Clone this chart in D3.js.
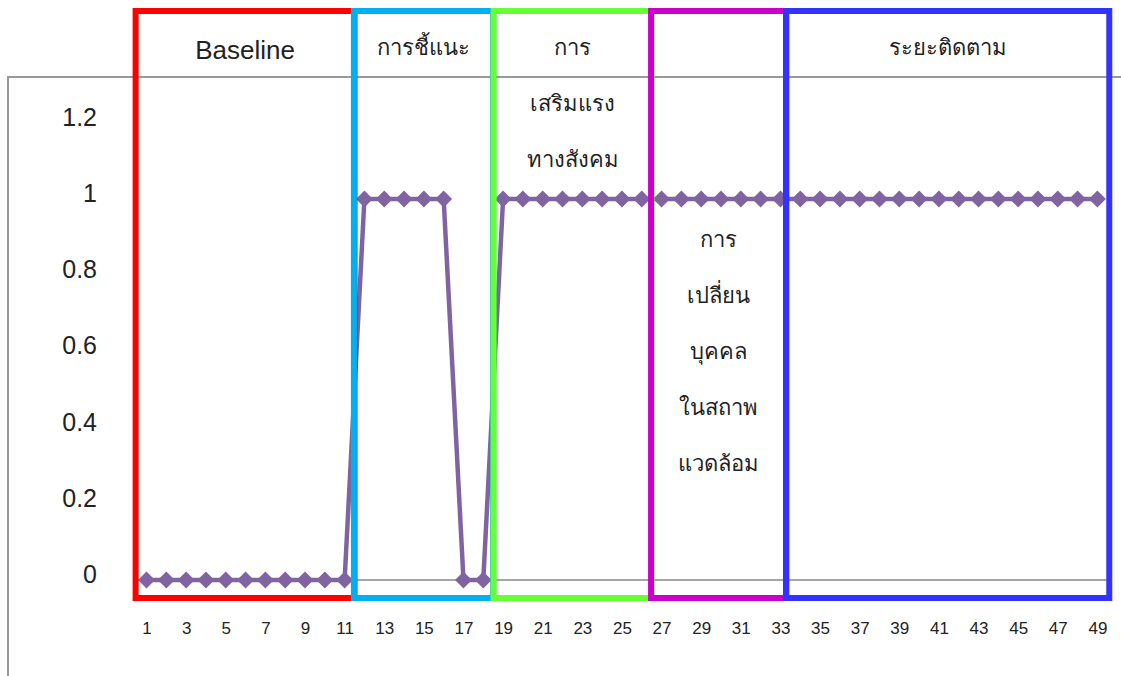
<!DOCTYPE html>
<html>
<head>
<meta charset="utf-8">
<script src="https://cdn.jsdelivr.net/npm/d3@7"></script>
<style>
  html, body { margin: 0; padding: 0; background: #fff; }
  svg { display: block; }
  text { font-family: "Liberation Sans", Arial, "DejaVu Sans", sans-serif; fill: #222; }
</style>
</head>
<body>
<svg id="chart" width="1121" height="676"></svg>
<script>
// ---- data ----
const categories = [1,2,3,4,5,6,7,8,9,10,11,12,13,14,15,16,17,18,19,20,21,22,23,24,25,
                    26,27,28,29,30,31,32,33,34,35,36,37,38,39,40,41,42,43,44,45,46,47,48,49];
const values = [0,0,0,0,0,0,0,0,0,0,0,
                1,1,1,1,1,
                0,0,
                1,1,1,1,1,1,1,1,1,1,1,1,1,1,1,1,1,1,1,1,1,1,1,1,1,1,1,1,1,1,1];
const xTickLabels = [1,3,5,7,9,11,13,15,17,19,21,23,25,27,29,31,33,35,37,39,41,43,45,47,49];
const yTickValues = [0,0.2,0.4,0.6,0.8,1,1.2];
const phaseNames = ["Baseline", "การชี้แนะ", "การเสริมแรงทางสังคม", "การเปลี่ยนบุคคลในสถาพแวดล้อม", "ระยะติดตาม"];
const phaseTitleLines = [
  ["Baseline"],
  ["การชี้แนะ"],
  ["การ", "เสริมแรง", "ทางสังคม"],
  ["การ", "เปลี่ยน", "บุคคล", "ในสถาพ", "แวดล้อม"],
  ["ระยะติดตาม"]
];
const phaseStart = [0.45, 11.47, 18.52, 26.47, 33.28];
const phaseEnd   = [11.5, 18.5, 26.5, 33.3, 49.6];

// ---- styles / layout ----
const phaseColors = ["#FF0000", "#00B0F0", "#66FF33", "#CC00CC", "#3333FF"];
const phaseTitleFirstBaseline = [59, 55, 55, 247, 55];
const phaseTitleSize = [26, 22, 22, 22, 22];
const lineColor = "#8064A2";

const svg = d3.select("#chart");
const W = 1121, H = 676;
const plotLeft = 136.6, plotRight = 1107.3;
const yTop = 199 - 0.2 * 381, yBottom = 580;

const x = d3.scalePoint().domain(categories).range([plotLeft, plotRight]).padding(0.5);
const step = x.step();
const xf = v => x(1) + (v - 1) * step;
const y = d3.scaleLinear().domain([0, 1.2]).range([yBottom, yTop]);

// outer chart border (top + left)
svg.append("path")
  .attr("d", `M8,${H} L8,77 L${W},77`)
  .attr("fill", "none").attr("stroke", "#999").attr("stroke-width", 2);

// zero axis line
svg.append("line")
  .attr("x1", plotLeft).attr("x2", plotRight)
  .attr("y1", y(0)).attr("y2", y(0))
  .attr("stroke", "#888").attr("stroke-width", 1.6);

// y axis labels
const yAxis = d3.axisLeft(y).tickValues(yTickValues).tickSize(0).tickPadding(0)
  .tickFormat(d => String(+d.toFixed(1)));
const gy = svg.append("g").attr("transform", "translate(97,0)").call(yAxis);
gy.select(".domain").remove();
gy.selectAll("text")
  .attr("font-size", 25).attr("fill", "#222")
  .attr("font-family", "\"Liberation Sans\", Arial, sans-serif")
  .attr("dy", "0.1em").attr("x", 0);

// x axis labels
const xAxis = d3.axisBottom(x).tickValues(xTickLabels).tickSize(0).tickPadding(0);
const gx = svg.append("g").attr("transform", "translate(0,0)").call(xAxis);
gx.select(".domain").remove();
gx.selectAll("text")
  .attr("font-size", 17).attr("fill", "#222")
  .attr("font-family", "\"Liberation Sans\", Arial, sans-serif")
  .attr("y", 634).attr("dy", 0);

// phase titles
phaseTitleLines.forEach((lines, i) => {
  const cx = (xf(phaseStart[i]) + xf(phaseEnd[i])) / 2;
  lines.forEach((t, j) => {
    svg.append("text")
      .attr("x", cx)
      .attr("y", phaseTitleFirstBaseline[i] + j * 56)
      .attr("text-anchor", "middle")
      .attr("font-size", phaseTitleSize[i])
      .attr("fill", "#222")
      .text(t);
  });
});

// data line
const line = d3.line().x((d, i) => x(categories[i])).y(d => y(d));
svg.append("path")
  .datum(values)
  .attr("d", line)
  .attr("fill", "none")
  .attr("stroke", lineColor)
  .attr("stroke-width", 4.5)
  .attr("stroke-linejoin", "round");

// diamond markers
const diamond = d3.symbol().type(d3.symbolSquare).size(144);
svg.append("g").selectAll("path")
  .data(values)
  .join("path")
  .attr("d", diamond)
  .attr("transform", (d, i) => `translate(${x(categories[i])},${y(d)}) rotate(45)`)
  .attr("fill", lineColor);

// phase boxes
const boxTop = 11, boxBottom = 598;
phaseNames.forEach((name, i) => {
  const x0 = xf(phaseStart[i]), x1 = xf(phaseEnd[i]);
  svg.append("rect")
    .attr("x", x0).attr("y", boxTop)
    .attr("width", x1 - x0).attr("height", boxBottom - boxTop)
    .attr("fill", "none")
    .attr("stroke", phaseColors[i])
    .attr("stroke-width", 6)
    .attr("data-name", name);
});
</script>
</body>
</html>
